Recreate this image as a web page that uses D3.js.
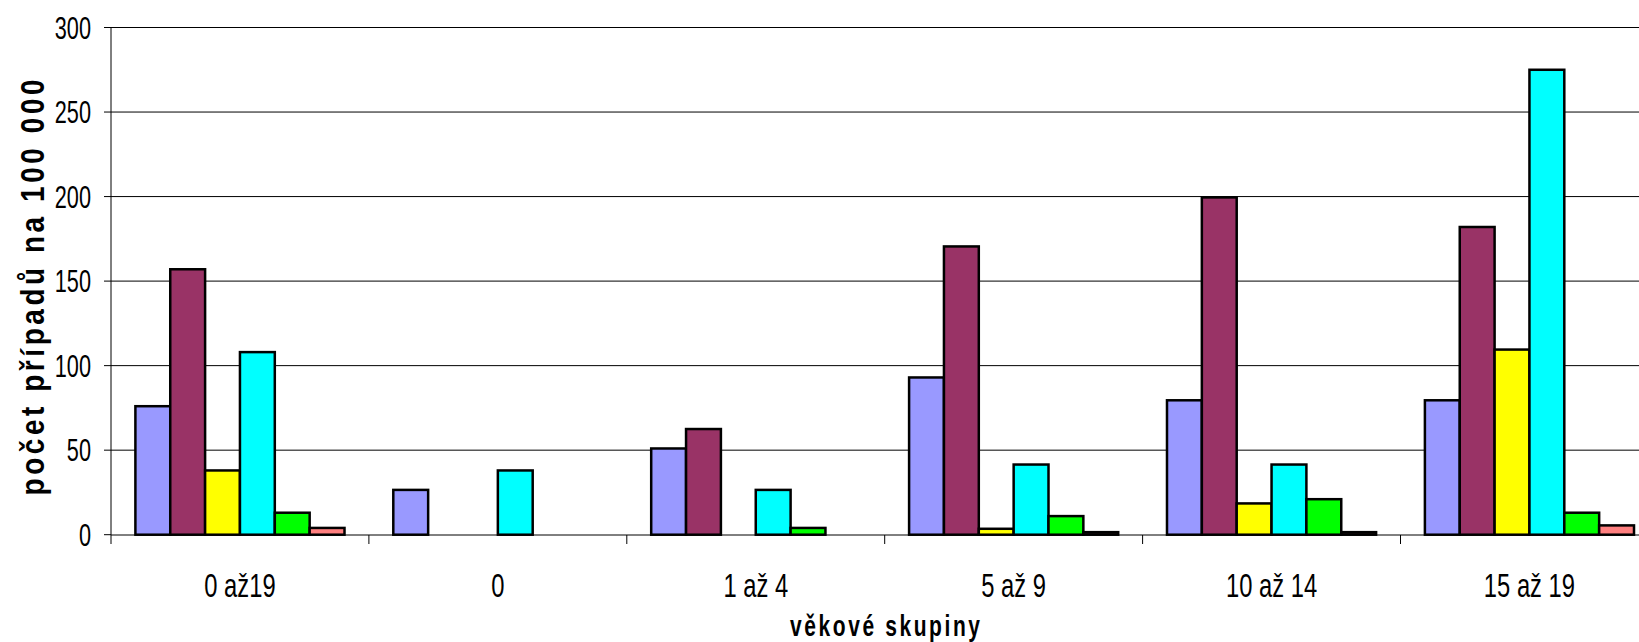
<!DOCTYPE html>
<html>
<head>
<meta charset="utf-8">
<script src="https://cdn.jsdelivr.net/npm/d3@7"></script>
<style>
  html, body { margin: 0; padding: 0; background: #fff; }
  svg { display: block; }
  text { font-family: "Liberation Sans", Arial, sans-serif; fill: #000; }
</style>
</head>
<body>
<svg id="chart" width="1639" height="642"></svg>
<script>
// ---- data ----
const categories = ["0 až19", "0", "1 až 4", "5 až 9", "10 až 14", "15 až 19"];
const seriesNames = ["řada 1", "řada 2", "řada 3", "řada 4", "řada 5", "řada 6"];
const series1 = [76, 26.5, 51, 93, 79.5, 79.5];
const series2 = [157, 0, 62.5, 170.5, 199.5, 182];
const series3 = [38, 0, 0, 3.5, 18.5, 109.5];
const series4 = [108, 38, 26.5, 41.5, 41.5, 275];
const series5 = [13, 0, 4, 11, 21, 13];
const series6 = [4, 0, 0, 1.5, 1.5, 5.5];
const seriesColors = ["#9999FF", "#993366", "#FFFF00", "#00FFFF", "#00FF00", "#FF8080"];
const yTicks = [0, 50, 100, 150, 200, 250, 300];
const yTitle = "počet případů na 100 000";
const xTitle = "věkové skupiny";

const allSeries = [series1, series2, series3, series4, series5, series6];

// ---- layout ----
const svg = d3.select("#chart");
const plotLeft = 111, plotTop = 27.5, plotBottom = 534.7;
const catW = 257.9;
const plotRight = plotLeft + catW * categories.length;

const x0 = d3.scaleBand().domain(categories).range([plotLeft, plotRight]).paddingInner(0).paddingOuter(0);
const x1 = d3.scaleBand().domain(seriesNames).range([0, x0.bandwidth()]).paddingInner(0).paddingOuter(0.7);
const y = d3.scaleLinear().domain([0, 300]).range([plotBottom, plotTop]);

// gridlines
svg.append("g").selectAll("line").data(yTicks.filter(t => t > 0)).join("line")
  .attr("x1", plotLeft).attr("x2", plotRight)
  .attr("y1", d => y(d)).attr("y2", d => y(d))
  .attr("stroke", "#000").attr("stroke-width", 1);

// bars
const rows = [];
categories.forEach((c, ci) => {
  seriesNames.forEach((s, si) => {
    rows.push({cat: c, ser: s, v: allSeries[si][ci], color: seriesColors[si]});
  });
});
svg.append("g").selectAll("rect").data(rows.filter(d => d.v > 0)).join("rect")
  .attr("x", d => x0(d.cat) + x1(d.ser))
  .attr("width", x1.bandwidth())
  .attr("y", d => y(d.v))
  .attr("height", d => y(0) - y(d.v))
  .attr("fill", d => d.color)
  .attr("stroke", "#000")
  .attr("stroke-width", 2.5);

// axes lines
svg.append("line").attr("x1", plotLeft).attr("x2", plotLeft).attr("y1", plotTop).attr("y2", 535)
  .attr("stroke", "#000").attr("stroke-width", 1);
svg.append("line").attr("x1", plotLeft).attr("x2", plotRight).attr("y1", 535).attr("y2", 535)
  .attr("stroke", "#000").attr("stroke-width", 1);

// y ticks + labels
const yt = svg.append("g");
yTicks.forEach(t => {
  yt.append("line").attr("x1", plotLeft - 7).attr("x2", plotLeft).attr("y1", y(t)).attr("y2", y(t))
    .attr("stroke", "#000").attr("stroke-width", 1);
  yt.append("g").attr("transform", `translate(91,${y(t) + 11}) scale(0.7,1)`)
    .append("text").attr("text-anchor", "end").style("font-size", "31px").text(t);
});

// x ticks + labels
const xt = svg.append("g");
d3.range(categories.length + 1).forEach(i => {
  const xx = plotLeft + i * x0.step();
  xt.append("line").attr("x1", xx).attr("x2", xx).attr("y1", 535).attr("y2", 544)
    .attr("stroke", "#000").attr("stroke-width", 1);
});
categories.forEach(c => {
  xt.append("g").attr("transform", `translate(${x0(c) + x0.bandwidth() / 2},597) scale(0.72,1)`)
    .append("text").attr("text-anchor", "middle").style("font-size", "33px").text(c);
});

// axis titles
svg.append("g").attr("transform", `translate(885,636) scale(0.7,1)`)
  .append("text").attr("text-anchor", "middle").style("font-size", "30px").style("font-weight", "bold")
  .attr("textLength", 190 / 0.7).attr("lengthAdjust", "spacing").text(xTitle);

svg.append("g").attr("transform", `translate(44,287.5) rotate(-90) scale(0.82,1)`)
  .append("text").attr("text-anchor", "middle").style("font-size", "34px").style("font-weight", "bold")
  .attr("textLength", 416 / 0.82).attr("lengthAdjust", "spacing").text(yTitle);
</script>
</body>
</html>
